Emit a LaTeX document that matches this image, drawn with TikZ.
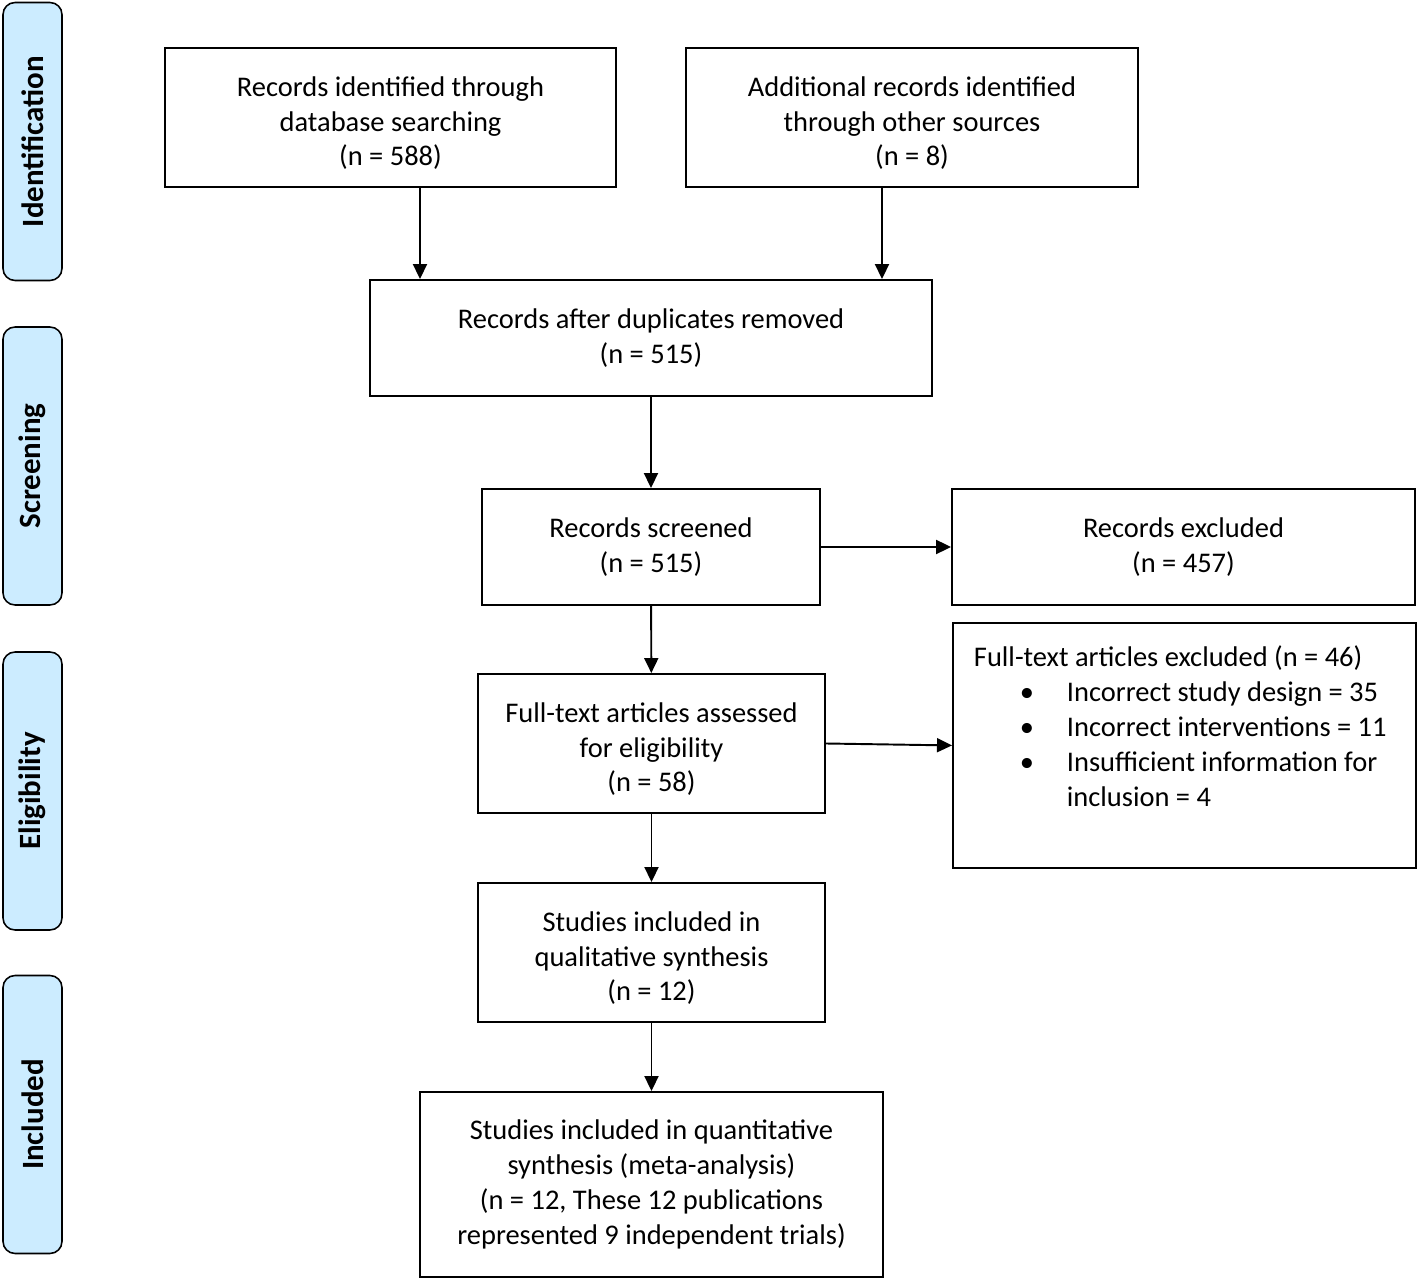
\documentclass[tikz,border=0pt]{standalone}
\usepackage{fontspec}
\setmainfont{Carlito}
\usepackage{xcolor}
\usetikzlibrary{arrows.meta}
\definecolor{tabblue}{HTML}{CCECFF}
\newcommand\bulletline[1]{\makebox[1.86cm][l]{\hspace*{0.92cm}\textbullet}#1}
\newcommand\lowstrut{\rule{0pt}{0.62cm}}

\begin{document}
\begin{tikzpicture}[x=0.02cm, y=-0.02cm, line width=1.1pt]
	\tikzset{plain box/.style={draw, align=center, inner sep=0pt, font=\fontsize{16.2}{19.9}\selectfont},
		stage tab/.style={draw, line width=0.9pt, fill=tabblue, rounded corners=0.24cm, rotate=90,
			minimum height=1.18cm, font=\fontsize{17.6}{20}\selectfont\bfseries},
		flow/.style={-{Triangle[length=0.3cm, width=0.28cm]}}}
	\useasboundingbox (0,0) rectangle (1418,1280);

	% stages down the left side
	\node[stage tab, minimum width=5.56cm] (identification) at (32.5, 141.5) {Identification};
	\node[stage tab, minimum width=5.56cm] (screening) at (32.5, 466) {Screening};
	\node[stage tab, minimum width=5.56cm] (eligibility) at (32.5, 791) {Eligibility};
	\node[stage tab, minimum width=5.56cm] (included) at (32.5, 1114.5) {Included};

	% boxes
	\node[plain box, minimum width=9.02cm, minimum height=2.78cm] (database) at (390.5, 117.5)
		{\lowstrut Records identified through\\database searching\\(n = 588)};
	\node[plain box, minimum width=9.04cm, minimum height=2.78cm] (other) at (912, 117.5)
		{\lowstrut Additional records identified\\through other sources\\(n = 8)};
	\node[plain box, minimum width=11.24cm, minimum height=2.32cm] (dedup) at (651, 338)
		{Records after duplicates removed\\(n = 515)};
	\node[plain box, minimum width=6.76cm, minimum height=2.32cm] (screened) at (651, 547)
		{Records screened\\(n = 515)};
	\node[plain box, minimum width=9.26cm, minimum height=2.32cm] (excluded) at (1183.5, 547)
		{Records excluded\\(n = 457)};
	\node[plain box, minimum width=6.94cm, minimum height=2.78cm] (fulltext) at (651.5, 743.5)
		{\lowstrut Full-text articles assessed\\for eligibility\\(n = 58)};
	\node[plain box, anchor=north west, inner xsep=0.42cm, inner ysep=0.36cm] (ftexcluded) at (952, 622)
		{\parbox[t][4.18cm][t]{8.42cm}{\raggedright\vspace*{0.1cm}Full-text articles excluded (n = 46)\\
		\bulletline{Incorrect study design = 35}\\
		\bulletline{Incorrect interventions = 11}\\
		\bulletline{Insufficient information for}\\
		\hspace*{1.86cm}inclusion = 4}};
	\node[plain box, minimum width=6.94cm, minimum height=2.78cm] (qualitative) at (651.5, 952.5)
		{\lowstrut Studies included in\\qualitative synthesis\\(n = 12)};
	\node[plain box, minimum width=9.26cm, minimum height=3.7cm] (quantitative) at (651.5, 1184.5)
		{Studies included in quantitative\\synthesis (meta-analysis)\\(n = 12, These 12 publications\\represented 9 independent trials)};

	% arrows
	\draw[flow] ([xshift=0.59cm]database.south) -- ([xshift=0.59cm]database.south |- dedup.north);
	\draw[flow] ([xshift=-0.6cm]other.south) -- ([xshift=-0.6cm]other.south |- dedup.north);
	\draw[flow] (dedup) -- (screened);
	\draw[flow] (screened) -- (excluded);
	\draw[flow] (screened) -- (fulltext);
	\draw[flow] (fulltext.east) -- (ftexcluded.west);
	\draw[flow] (fulltext) -- (qualitative);
	\draw[flow] (qualitative) -- (quantitative);
\end{tikzpicture}
\end{document}
